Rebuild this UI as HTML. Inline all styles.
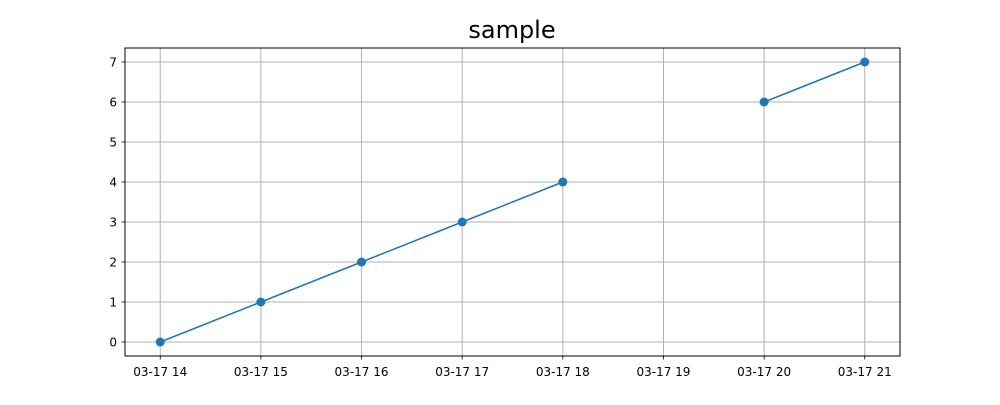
<!DOCTYPE html>
<html><head><meta charset="utf-8"><style>
body{margin:0;background:#fff}
text{font-family:"DejaVu Sans","Liberation Sans",sans-serif}
</style></head><body>
<svg id="chart" width="1000" height="400" xmlns="http://www.w3.org/2000/svg">
<rect width="1000" height="400" fill="#fff"/>
<text x="512" y="38" font-size="24" text-anchor="middle">sample</text>
<g id="grid"></g>
<g id="ticks"></g>
<g id="series"></g>
<rect x="125" y="48" width="775" height="308" fill="none" stroke="#000" stroke-width="1"/>
</svg>
<script>
const hours=[14,15,16,17,18,19,20,21];
const values=[0,1,2,3,4,null,6,7];
const xTickLabels=["03-17 14","03-17 15","03-17 16","03-17 17","03-17 18","03-17 19","03-17 20","03-17 21"];
const yTicks=[0,1,2,3,4,5,6,7];
const L=125,R=900,T=48,B=356,xmin=13.65,xmax=21.35,ymin=-0.35,ymax=7.35;
const X=h=>L+(h-xmin)/(xmax-xmin)*(R-L);
const Y=v=>B-(v-ymin)/(ymax-ymin)*(B-T);
const ns="http://www.w3.org/2000/svg";
function mk(tag,attrs,parent){const e=document.createElementNS(ns,tag);for(const k in attrs)e.setAttribute(k,attrs[k]);parent.appendChild(e);return e;}
const grid=document.getElementById('grid'),ticks=document.getElementById('ticks'),series=document.getElementById('series');
hours.forEach((h,i)=>{const x=X(h);
 let g=mk('line',{x1:x,x2:x,y1:T,y2:B,stroke:'#b0b0b0','stroke-width':1},grid);
 
 
 let t=mk('line',{x1:x,x2:x,y1:B,y2:B+3.5,stroke:'#000','stroke-width':0.8},ticks);
 
 
 let tx=mk('text',{x:x,y:B+20,'font-size':12,'text-anchor':'middle'},ticks);tx.textContent=xTickLabels[i];
 
 
});
yTicks.forEach(v=>{const y=Y(v);
 let g=mk('line',{x1:L,x2:R,y1:y,y2:y,stroke:'#b0b0b0','stroke-width':1},grid);
 
 
 let t=mk('line',{x1:L-3.5,x2:L,y1:y,y2:y,stroke:'#000','stroke-width':0.8},ticks);
 
 
 let tx=mk('text',{x:L-8,y:y+4.5,'font-size':12,'text-anchor':'end'},ticks);tx.textContent=v;
 
 
});
let segs=[],cur=[];
values.forEach((v,i)=>{if(v==null){if(cur.length)segs.push(cur);cur=[];}else cur.push([X(hours[i]),Y(v)]);});
if(cur.length)segs.push(cur);
segs.forEach(s=>{let p=mk('polyline',{points:s.map(q=>q.join(',')).join(' '),fill:'none',stroke:'#1f77b4','stroke-width':1.5},series);
 
 });
values.forEach((v,i)=>{if(v==null)return;
 let c=mk('circle',{cx:X(hours[i]),cy:Y(v),r:4.5,fill:'#1f77b4'},series);
 
 });
</script>
</body></html>
